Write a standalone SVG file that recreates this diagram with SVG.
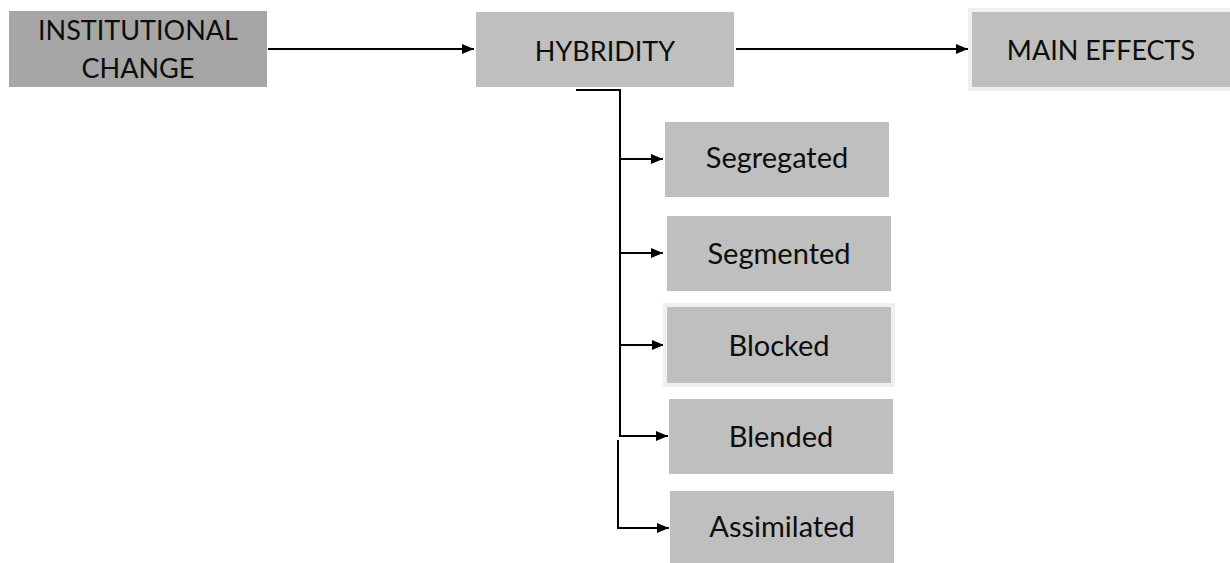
<svg xmlns="http://www.w3.org/2000/svg" width="1230" height="563" viewBox="0 0 1230 563">
<defs>
<marker id="ah" markerWidth="12" markerHeight="10" refX="12" refY="5" orient="auto" markerUnits="userSpaceOnUse">
<path d="M0,0 L12,5 L0,10 Z" fill="#000"/>
</marker>
<style>
.box{fill:#bfbfbf}
.dark{fill:#a6a6a6}
.rim{fill:#bfbfbf;stroke:#f0f0f0;stroke-width:4}
text{font-family:Lato,"Open Sans",sans-serif;font-size:29px;fill:#0d0d0d;text-anchor:middle}
.caps{font-size:27px}
.conn{stroke:#000;stroke-width:2;fill:none}
</style>
</defs>
<rect width="1230" height="563" fill="#fff"/>
<g id="connectors">
<line class="conn" x1="268" y1="49" x2="474" y2="49" marker-end="url(#ah)"/>
<line class="conn" x1="736" y1="49" x2="968" y2="49" marker-end="url(#ah)"/>
<polyline class="conn" points="576,90 620,90 620,437"/>
<line class="conn" x1="620" y1="159" x2="663" y2="159" marker-end="url(#ah)"/>
<line class="conn" x1="620" y1="253" x2="663" y2="253" marker-end="url(#ah)"/>
<line class="conn" x1="620" y1="345" x2="664" y2="345" marker-end="url(#ah)"/>
<line class="conn" x1="620" y1="436" x2="668" y2="436" marker-end="url(#ah)"/>
<polyline class="conn" points="618,440 618,528 669,528" marker-end="url(#ah)"/>
</g>
<g id="institutional-change">
<rect class="dark" x="9" y="11" width="258" height="76"/>
<text class="caps" x="138" y="40">INSTITUTIONAL</text>
<text class="caps" x="138" y="78">CHANGE</text>
</g>
<g id="hybridity">
<rect class="box" x="476" y="12" width="258" height="75"/>
<text class="caps" x="605" y="61">HYBRIDITY</text>
</g>
<g id="main-effects">
<rect class="rim" x="970" y="10" width="262" height="79"/>
<text class="caps" x="1101" y="60">MAIN EFFECTS</text>
</g>
<g id="segregated">
<rect class="box" x="665" y="122" width="224" height="75"/>
<text x="777" y="168">Segregated</text>
</g>
<g id="segmented">
<rect class="box" x="667" y="216" width="224" height="75"/>
<text x="779" y="264">Segmented</text>
</g>
<g id="blocked">
<rect class="rim" x="665" y="305" width="228" height="80"/>
<text x="779" y="356">Blocked</text>
</g>
<g id="blended">
<rect class="box" x="669" y="399" width="224" height="75"/>
<text x="781" y="447">Blended</text>
</g>
<g id="assimilated">
<rect class="box" x="670" y="491" width="224" height="80"/>
<text x="782" y="537">Assimilated</text>
</g>
</svg>
